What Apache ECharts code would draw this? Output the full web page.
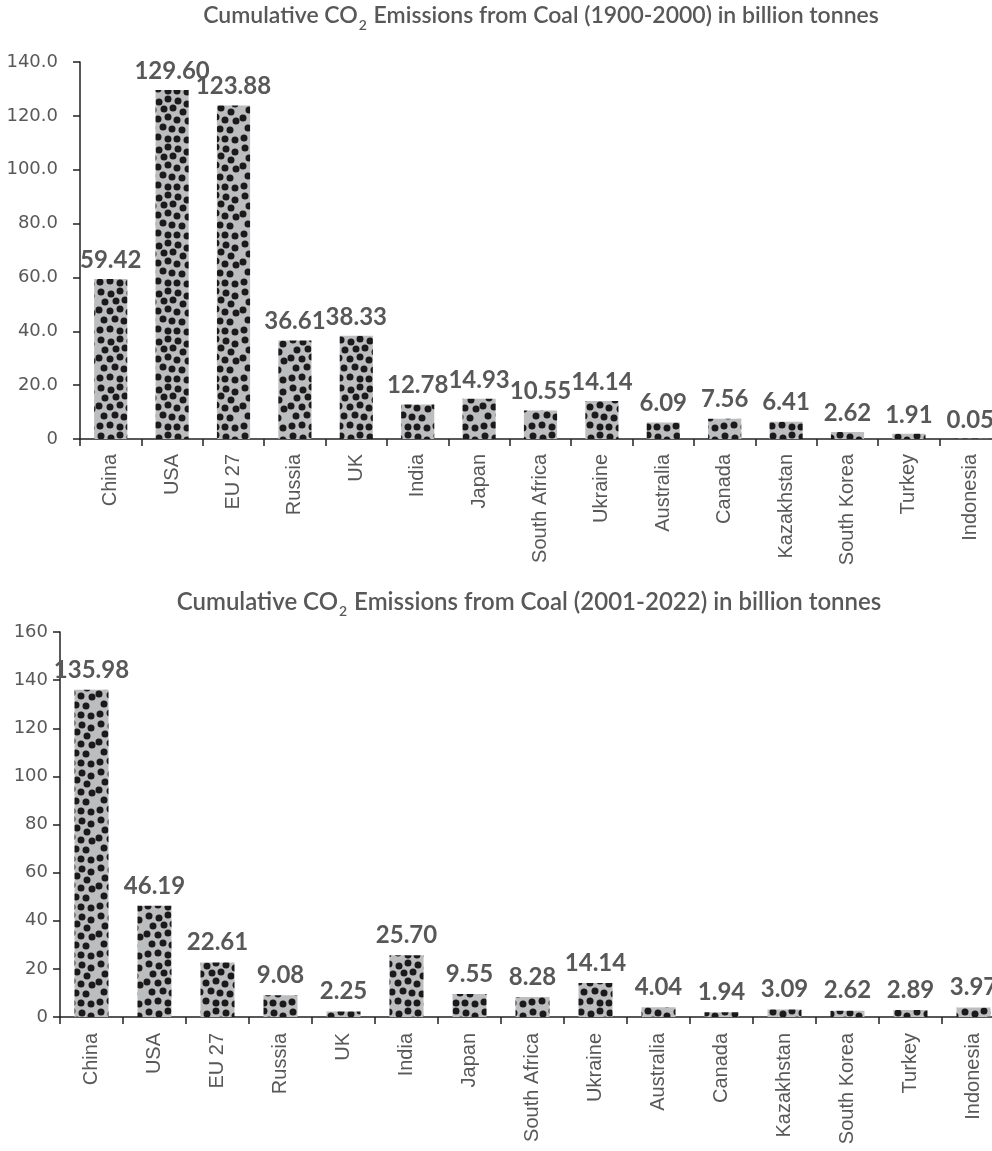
<!DOCTYPE html>
<html>
<head>
<meta charset="utf-8">
<script src="https://cdn.jsdelivr.net/npm/echarts@6/dist/echarts.min.js"></script>
<style>
  html, body { margin: 0; padding: 0; background: #fff; overflow: hidden; }
  /* the last category column runs slightly past the right edge of the page */
  #chart { width: 1012px; height: 1151px; }
</style>
</head>
<body>
<div id="chart"></div>
<script>
// Countries shown on both charts
const countries = ['China', 'USA', 'EU 27', 'Russia', 'UK', 'India', 'Japan', 'South Africa',
  'Ukraine', 'Australia', 'Canada', 'Kazakhstan', 'South Korea', 'Turkey', 'Indonesia'];

// Cumulative CO2 from coal, billion tonnes
const emissions1900to2000 = [59.42, 129.60, 123.88, 36.61, 38.33, 12.78, 14.93, 10.55, 14.14, 6.09, 7.56, 6.41, 2.62, 1.91, 0.05];
const emissions2001to2022 = [135.98, 46.19, 22.61, 9.08, 2.25, 25.70, 9.55, 8.28, 14.14, 4.04, 1.94, 3.09, 2.62, 2.89, 3.97];

// Axis ranges
const axisTop = { y1: 140, y2: 160 };
const axisStep = 20;

// Dotted fill: grey tile with scattered black dots
function dotTile() {
  const size = 48;
  const c = document.createElement('canvas');
  c.width = size; c.height = size;
  const ctx = c.getContext('2d');
  ctx.fillStyle = '#bcbdbf';
  ctx.fillRect(0, 0, size, size);
  const dots = [
    [5, 4], [15, 6], [24, 3], [34, 5], [43, 8],
    [9, 14], [20, 13], [29, 12], [39, 16],
    [3, 22], [14, 23], [24, 21], [33, 24], [44, 25],
    [8, 32], [19, 31], [28, 33], [38, 34],
    [4, 42], [14, 41], [24, 43], [33, 43], [43, 44]
  ];
  ctx.fillStyle = '#1b191a';
  for (const [x, y] of dots) {
    for (const dx of [-size, 0, size]) {
      for (const dy of [-size, 0, size]) {
        ctx.beginPath();
        ctx.arc(x + dx, y + dy, 3.5, 0, Math.PI * 2);
        ctx.fill();
      }
    }
  }
  return c;
}
const dotFill = { image: dotTile(), repeat: 'repeat' };

const textGrey = '#585858';
const axisDark = '#222';

function titleRich(period, size) {
  return {
    text: '{t|Cumulative CO}{s|2}{t| Emissions from Coal (' + period + ') in billion tonnes}',
    textStyle: {
      rich: {
        t: { fontFamily: 'Lato', fontWeight: 600, fontSize: size, color: textGrey, lineHeight: 30 },
        s: { fontFamily: 'Lato', fontWeight: 600, fontSize: 14, color: textGrey, padding: [18, 1, 0, 1] }
      }
    }
  };
}

function valueAxis(gridIndex, max, fmt, margin) {
  return {
    type: 'value', gridIndex, min: 0, max, interval: axisStep,
    splitLine: { show: false },
    axisLine: { show: true, lineStyle: { color: axisDark, width: 1.5 } },
    axisTick: { show: true, length: 7, lineStyle: { color: axisDark, width: 1.5 } },
    axisLabel: { fontFamily: 'DejaVu Sans', fontSize: 18, color: textGrey, margin, formatter: fmt }
  };
}

function categoryAxis(gridIndex, margin) {
  return {
    type: 'category', gridIndex, data: countries,
    axisLine: { lineStyle: { color: axisDark, width: 1.5 } },
    axisTick: { show: true, length: 7, lineStyle: { color: axisDark, width: 1.5 } },
    axisLabel: { rotate: 90, interval: 0, fontFamily: 'Liberation Sans', fontSize: 20, color: textGrey, margin }
  };
}

function barSeries(index, values, gap) {
  return {
    type: 'bar', xAxisIndex: index, yAxisIndex: index, data: values,
    barWidth: '54%',
    itemStyle: { color: dotFill },
    label: {
      show: true, position: 'top', distance: gap,
      fontFamily: 'Lato', fontWeight: 'bold', fontSize: 24, color: textGrey,
      formatter: p => p.value.toFixed(2)
    },
    silent: true, animation: false
  };
}

const chart = echarts.init(document.getElementById('chart'), null, { renderer: 'canvas' });
chart.setOption({
  backgroundColor: '#fff',
  animation: false,
  title: [
    Object.assign({ left: 541, top: 0, padding: 0, textAlign: 'center' }, titleRich('1900-2000', 23)),
    Object.assign({ left: 529, top: 586, padding: 0, textAlign: 'center' }, titleRich('2001-2022', 24))
  ],
  grid: [
    { left: 80, top: 62, width: 921, height: 377 },
    { left: 60, top: 632, width: 945, height: 385 }
  ],
  xAxis: [categoryAxis(0, 15), categoryAxis(1, 16)],
  yAxis: [
    valueAxis(0, axisTop.y1, v => (v === 0 ? '0' : v.toFixed(1)), 22),
    valueAxis(1, axisTop.y2, v => String(v), 12)
  ],
  series: [barSeries(0, emissions1900to2000, 7), barSeries(1, emissions2001to2022, 8)]
});
</script>
</body>
</html>
